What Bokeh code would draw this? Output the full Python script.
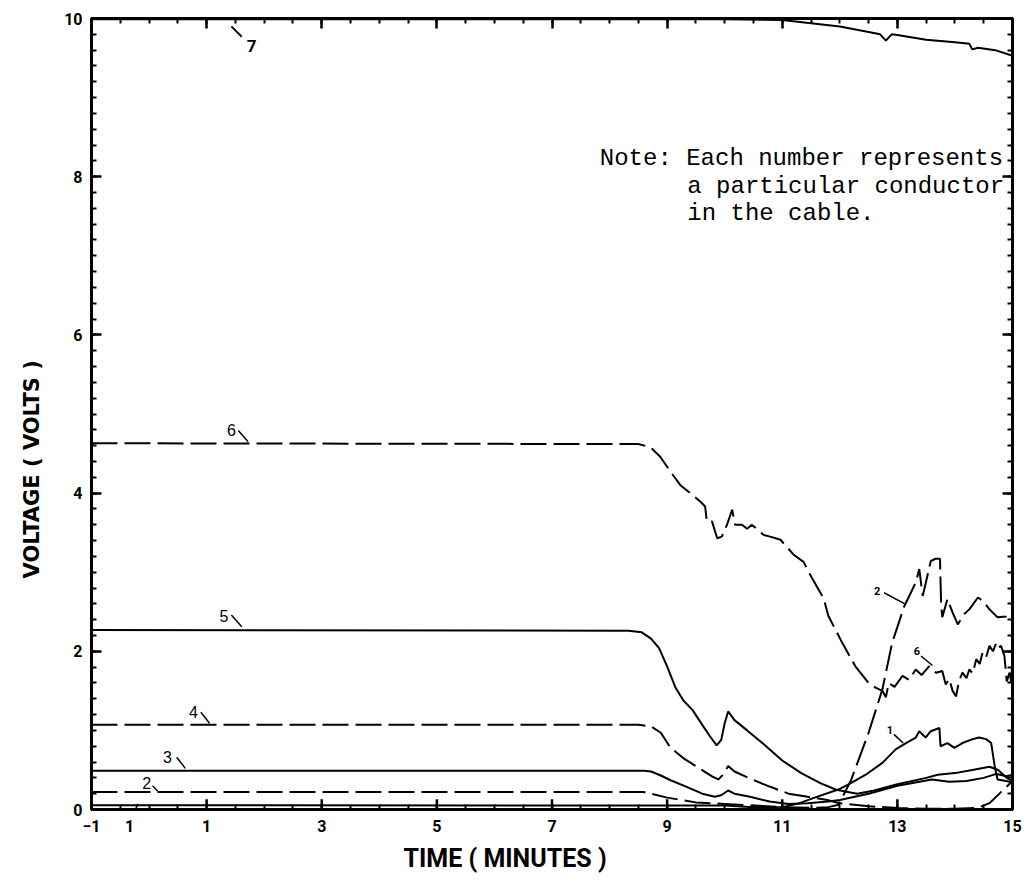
from bokeh.plotting import figure
from bokeh.models import Range1d, FixedTicker, LinearAxis, Label, Title, CustomJSTickFormatter
from bokeh.embed import file_html
from bokeh.resources import INLINE

# ---------------- data ----------------
x_ticks = [-1, 1, 3, 5, 7, 9, 11, 13, 15]
y_ticks = [0, 2, 4, 6, 8, 10]

x7 = [-1, 2, 5, 8, 10, 11, 11.5, 12.0, 12.5, 12.7, 12.8, 12.9, 13.0, 13.5, 14.0, 14.25, 14.3, 14.4, 14.7, 15.0]
y7 = [9.99, 9.99, 9.99, 9.99, 9.99, 9.98, 9.94, 9.9, 9.83, 9.80, 9.72, 9.80, 9.79, 9.73, 9.70, 9.68, 9.61, 9.63, 9.60, 9.53]

x6 = [-1, 8.5, 8.71, 8.88, 9.06, 9.23, 9.4, 9.58, 9.66, 9.69, 9.78, 9.87, 9.95, 10.04, 10.13, 10.18,
      10.3, 10.39, 10.47, 10.68, 10.79, 10.97, 11.2, 11.37, 11.49, 11.6, 11.72, 11.8, 12.04, 12.27,
      12.5, 12.62, 12.74, 12.8, 12.85, 12.95, 13.09, 13.2, 13.32, 13.42, 13.55, 13.62, 13.67, 13.78,
      13.84, 13.9, 13.96, 14.02, 14.07, 14.13, 14.2, 14.25, 14.31, 14.37, 14.43, 14.48, 14.54, 14.6,
      14.66, 14.72, 14.76, 14.8, 14.86, 14.9, 14.95, 14.98, 15.0]
y6 = [4.63, 4.62, 4.58, 4.46, 4.27, 4.10, 4.00, 3.89, 3.83, 3.64, 3.64, 3.43, 3.45, 3.60, 3.79, 3.60,
      3.60, 3.55, 3.60, 3.47, 3.45, 3.41, 3.22, 3.13, 2.96, 2.82, 2.67, 2.45, 2.11, 1.81,
      1.60, 1.54, 1.50, 1.42, 1.60, 1.55, 1.69, 1.64, 1.77, 1.70, 1.81, 1.76, 1.73, 1.75,
      1.58, 1.65, 1.50, 1.43, 1.62, 1.73, 1.66, 1.77, 1.72, 1.90, 1.84, 1.98, 1.92, 2.07,
      2.00, 2.11, 2.05, 2.07, 1.94, 1.62, 1.73, 1.60, 1.98]

x5 = [-1, 8.33, 8.56, 8.72, 8.86, 9.0, 9.14, 9.28, 9.44, 9.61, 9.75, 9.86, 9.94, 10.0, 10.06, 10.17,
      10.39, 10.67, 11.0, 11.33, 11.67, 11.94, 12.3, 12.6, 13.0, 13.5, 13.7, 14.0, 14.3, 14.6, 14.75, 14.9, 15.0]
y5 = [2.27, 2.26, 2.24, 2.16, 2.04, 1.81, 1.55, 1.38, 1.26, 1.07, 0.92, 0.81, 0.88, 1.09, 1.24, 1.13,
      1.00, 0.83, 0.62, 0.46, 0.33, 0.25, 0.20, 0.24, 0.32, 0.40, 0.44, 0.46, 0.50, 0.54, 0.50, 0.40, 0.36]

x4 = [-1, 8.5, 8.72, 8.89, 9.06, 9.28, 9.56, 9.78, 9.89, 9.97, 10.06, 10.17, 10.44, 10.78, 11.11,
      11.44, 11.78, 12.0, 12.5, 13.0, 13.5, 14.0, 14.4, 14.6, 14.8, 15.0]
y4 = [1.07, 1.07, 1.05, 0.97, 0.78, 0.65, 0.52, 0.42, 0.38, 0.44, 0.55, 0.48, 0.39, 0.29, 0.20,
      0.16, 0.12, 0.08, 0.04, 0.02, 0.01, 0.01, 0.02, 0.08, 0.22, 0.36]

x3 = [-1, 8.6, 8.72, 8.89, 9.06, 9.33, 9.61, 9.83, 9.94, 10.06, 10.17, 10.44, 10.78, 11.11, 11.44,
      11.8, 12.0, 12.5, 13.0, 13.6, 13.9, 14.2, 14.5, 14.72, 14.9, 15.0]
y3 = [0.49, 0.49, 0.48, 0.43, 0.37, 0.29, 0.20, 0.16, 0.18, 0.24, 0.20, 0.16, 0.10, 0.07, 0.08,
      0.10, 0.12, 0.20, 0.30, 0.38, 0.35, 0.36, 0.40, 0.45, 0.42, 0.44]

x2 = [-1, 8.6, 9.0, 9.5, 10.0, 10.5, 11.0, 11.5, 11.8, 11.98, 12.2, 12.5, 12.74, 12.91, 13.12, 13.32,
      13.38, 13.44, 13.52, 13.58, 13.66, 13.74, 13.76, 13.78, 13.87, 13.96, 14.05, 14.16, 14.25,
      14.4, 14.48, 14.6, 14.74, 14.89, 15.0]
y2 = [0.22, 0.22, 0.15, 0.09, 0.07, 0.05, 0.03, 0.02, 0.03, 0.06, 0.38, 0.97, 1.52, 2.11, 2.57, 2.87,
      3.04, 2.70, 2.95, 3.14, 3.17, 3.17, 2.60, 2.43, 2.66, 2.49, 2.34, 2.47, 2.53,
      2.68, 2.64, 2.53, 2.43, 2.44, 2.47]

x1 = [-1, 10.0, 10.5, 11.0, 11.3, 11.6, 12.0, 12.16, 12.45, 12.74, 12.97, 13.15, 13.32, 13.38, 13.49,
      13.58, 13.73, 13.75, 13.87, 13.99, 14.13, 14.31, 14.42, 14.54, 14.63, 14.69, 14.74, 14.89, 15.0]
y1 = [0.055, 0.05, 0.03, 0.03, 0.08, 0.16, 0.26, 0.32, 0.44, 0.59, 0.76, 0.84, 0.91, 0.99, 0.91,
      0.99, 1.03, 0.80, 0.84, 0.78, 0.84, 0.89, 0.91, 0.89, 0.84, 0.55, 0.38, 0.36, 0.34]

curve_names = ["7", "6", "5", "4", "3", "2", "1"]

# label anchors (data units) and leader segments
left_lbl_text = ["6", "5", "4", "3", "2"]
left_lbl_x = [1.43, 1.30, 0.77, 0.32, -0.04]
left_lbl_y = [4.80, 2.44, 1.23, 0.67, 0.33]
left_lead_x0 = [1.55, 1.43, 0.90, 0.48, 0.06, -0.24]
left_lead_y0 = [4.79, 2.46, 1.23, 0.66, 0.30, -0.0]
left_lead_x1 = [1.72, 1.61, 1.05, 0.63, 0.15, -0.19]
left_lead_y1 = [4.65, 2.31, 1.09, 0.52, 0.23, 0.07]
label1_x = -0.34   # conductor 1 label sits just under the time axis

right_lbl_text = ["2", "6", "1"]
right_lbl_x = [12.65, 13.34, 12.87]
right_lbl_y = [2.76, 2.00, 1.01]
right_lead_x0 = [12.77, 13.41, 12.94]
right_lead_y0 = [2.74, 1.94, 0.95]
right_lead_x1 = [13.13, 13.61, 13.10]
right_lead_y1 = [2.60, 1.82, 0.84]

note_lines = ["Note: Each number represents", "a particular conductor", "in the cable."]
x_title = "TIME ( MINUTES )"
y_title = "VOLTAGE ( VOLTS )"

# ---------------- figure ----------------
p = figure(width=1024, height=884, output_backend="svg", toolbar_location=None,
           x_range=Range1d(-1, 15), y_range=Range1d(0, 10),
           min_border_left=91, min_border_right=12, min_border_top=18, min_border_bottom=75)
p.grid.visible = False
p.background_fill_color = "white"
p.border_fill_color = "white"
p.outline_line_color = "black"
p.outline_line_width = 3

x_minor = [-1 + 0.5 * i for i in range(33)]
y_minor = [0.2 * i for i in range(51)]


def style_axis(ax):
    ax.axis_line_width = 3
    ax.axis_line_color = "black"
    ax.major_tick_in = 10
    ax.major_tick_out = 0
    ax.minor_tick_in = 5
    ax.minor_tick_out = 0
    ax.major_tick_line_width = 2.5
    ax.minor_tick_line_width = 2
    ax.major_label_text_font = "Roboto"
    ax.major_label_text_font_style = "bold"
    ax.major_label_text_font_size = "16px"
    ax.major_label_text_color = "black"


# bottom axis: tick labels plus the conductor-1 tag under the axis
xa = p.xaxis[0]
xa.ticker = FixedTicker(ticks=x_ticks + [label1_x], minor_ticks=x_minor)
style_axis(xa)
xa.major_tick_in = 0
xa.major_label_overrides = {label1_x: curve_names[6]}
xa.major_label_standoff = 10
# major ticks of the bottom axis drawn from the tick list
p.segment(x_ticks, [0] * len(x_ticks), x_ticks, [0.13] * len(x_ticks), line_color="black", line_width=2.5)

ya = p.yaxis[0]
ya.ticker = FixedTicker(ticks=y_ticks, minor_ticks=y_minor)
style_axis(ya)
ya.major_label_standoff = 9

empty = CustomJSTickFormatter(code="return ''")
ta = LinearAxis(ticker=FixedTicker(ticks=x_ticks, minor_ticks=x_minor), formatter=empty)
style_axis(ta)
ra = LinearAxis(ticker=FixedTicker(ticks=y_ticks, minor_ticks=y_minor), formatter=empty)
style_axis(ra)
p.add_layout(ta, "above")
p.add_layout(ra, "right")

# axis titles (off-centre, as in the reference)
p.add_layout(Title(text=x_title, align="left", offset=312, standoff=18, vertical_align="top",
                   text_font="Roboto", text_font_style="bold", text_font_size="25px",
                   text_color="black"), "below")
p.add_layout(Title(text=y_title, align="left", offset=231, standoff=35, text_font="DejaVu Sans",
                   text_font_style="bold", text_font_size="21px", text_color="black"), "left")

dash = "26 7"
p.line(x7, y7, line_color="black", line_width=2)
p.line(x6, y6, line_color="black", line_width=2, line_dash=dash)
p.line(x5, y5, line_color="black", line_width=2)
p.line(x4, y4, line_color="black", line_width=2, line_dash=dash)
p.line(x3, y3, line_color="black", line_width=2)
p.line(x2, y2, line_color="black", line_width=2, line_dash=dash)
p.line(x1, y1, line_color="black", line_width=2)

# leaders
p.segment(left_lead_x0, left_lead_y0, left_lead_x1, left_lead_y1, line_color="black", line_width=1.5)
p.segment(right_lead_x0, right_lead_y0, right_lead_x1, right_lead_y1, line_color="black", line_width=1.5)
p.segment([1.43], [9.90], [1.61], [9.77], line_color="black", line_width=2)

for t, x, y in zip(left_lbl_text, left_lbl_x, left_lbl_y):
    p.add_layout(Label(x=x, y=y, text=t, text_font="Liberation Sans", text_font_size="16px",
                       text_align="center", text_baseline="middle", text_color="black"))
for t, x, y in zip(right_lbl_text, right_lbl_x, right_lbl_y):
    p.add_layout(Label(x=x, y=y, text=t, text_font="Roboto", text_font_style="bold",
                       text_font_size="11px", text_align="center", text_baseline="middle",
                       text_color="black"))
p.add_layout(Label(x=1.78, y=9.65, text=curve_names[0], text_font="Roboto", text_font_style="bold",
                   text_font_size="17px", text_align="center", text_baseline="middle",
                   text_color="black"))

note_x = [7.83, 9.35, 9.35]
note_y = [8.23, 7.88, 7.54]
for t, x, y in zip(note_lines, note_x, note_y):
    p.add_layout(Label(x=x, y=y, text=t, text_font="Liberation Mono", text_font_size="24px",
                       text_align="left", text_baseline="alphabetic", text_color="black"))

open("out.html", "w").write(file_html(p, INLINE))
